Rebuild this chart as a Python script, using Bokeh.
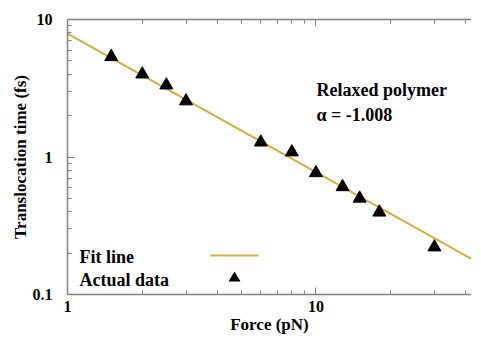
from bokeh.plotting import figure
from bokeh.models import (FixedTicker, LogAxis, Label, BoxAnnotation, PolyAnnotation,
                          Range1d)
from bokeh.embed import file_html
from bokeh.resources import INLINE

# ---- data ----
force = [1.5, 2.0, 2.5, 3.0, 6.0, 8.0, 10.0, 12.8, 15.0, 18.0, 30.0]
time = [5.35, 4.0, 3.33, 2.55, 1.28, 1.085, 0.766, 0.606, 0.50, 0.396, 0.221]
fit_x = [1.0, 50.0]
fit_y = [7.9, 0.1531]
x_major = [1, 10]
x_minor = [2, 3, 4, 5, 6, 7, 8, 9, 20, 30, 40]
y_major = [0.1, 1, 10]
y_minor = [0.2, 0.3, 0.4, 0.5, 0.6, 0.7, 0.8, 0.9, 2, 3, 4, 5, 6, 7, 8, 9]
y_labels = {0.1: "0.1", 1: "1", 10: "10"}
x_labels = {1: "1", 10: "10"}
title_text = "Relaxed polymer"
alpha_text = "\u03b1 = -1.008"

FONT = "Liberation Serif"
GRAY = "#808080"
GOLD = "#D6AC3A"

p = figure(width=471, height=336, x_axis_type="log", y_axis_type="log",
           x_range=Range1d(1, 42.3), y_range=Range1d(0.1, 10),
           output_backend="svg", toolbar_location=None,
           min_border_left=67, min_border_right=0, min_border_top=19,
           min_border_bottom=38)
p.outline_line_color = None
p.grid.visible = False
p.background_fill_color = "white"
p.border_fill_color = "white"

# fit line and data
p.line(fit_x, fit_y, line_color=GOLD, line_width=2)
p.scatter(force, time, marker="triangle", size=13, fill_color="black",
          line_color="black")

def style_axis(ax, fs="16px"):
    ax.axis_line_color = GRAY
    ax.axis_line_width = 1.5
    ax.major_tick_line_color = GRAY
    ax.minor_tick_line_color = GRAY
    ax.major_tick_in = 7
    ax.major_tick_out = 0
    ax.minor_tick_in = 4
    ax.minor_tick_out = 0
    ax.major_label_text_font = FONT
    ax.major_label_text_font_style = "bold"
    ax.major_label_text_font_size = fs
    ax.major_label_text_color = "black"
    ax.axis_label_text_font = FONT
    ax.axis_label_text_font_style = "bold"
    ax.axis_label_text_font_size = "17px"
    ax.axis_label_text_color = "black"

xa = p.xaxis[0]
xa.ticker = FixedTicker(ticks=x_major, minor_ticks=x_minor)
xa.major_label_overrides = x_labels
xa.axis_label = "Force (pN)"
style_axis(xa)
xa.major_label_standoff = 6
xa.axis_label_standoff = 0

ya = p.yaxis[0]
ya.ticker = FixedTicker(ticks=y_major, minor_ticks=y_minor)
ya.major_label_overrides = y_labels
ya.axis_label = "Translocation time (fs)"
style_axis(ya)
ya.major_label_standoff = 15
ya.axis_label_standoff = 0

top = LogAxis(ticker=FixedTicker(ticks=x_major, minor_ticks=x_minor))
style_axis(top, fs="0px")
top.major_label_standoff = 0
top.major_label_text_alpha = 0
p.add_layout(top, "above")

# annotations
for txt, yy in [(title_text, 205), (alpha_text, 180)]:
    p.add_layout(Label(x=249, y=yy, x_units="screen", y_units="screen", text=txt,
                       text_font=FONT, text_font_style="bold", text_font_size="18px",
                       text_baseline="middle", text_color="black"))

# legend (manual)
for txt, yy in [("Fit line", 38), ("Actual data", 15)]:
    p.add_layout(Label(x=12, y=yy, x_units="screen", y_units="screen", text=txt,
                       text_font=FONT, text_font_style="bold", text_font_size="18px",
                       text_baseline="middle", text_color="black"))
p.add_layout(BoxAnnotation(left=143, right=191, bottom=38, top=40,
                           left_units="screen", right_units="screen",
                           bottom_units="screen", top_units="screen",
                           fill_color=GOLD, fill_alpha=1, line_color=None))
p.add_layout(PolyAnnotation(xs=[161, 173, 167], ys=[13, 13, 23],
                            xs_units="screen", ys_units="screen",
                            fill_color="black", fill_alpha=1, line_color=None))

open("out.html", "w").write(file_html(p, INLINE))
